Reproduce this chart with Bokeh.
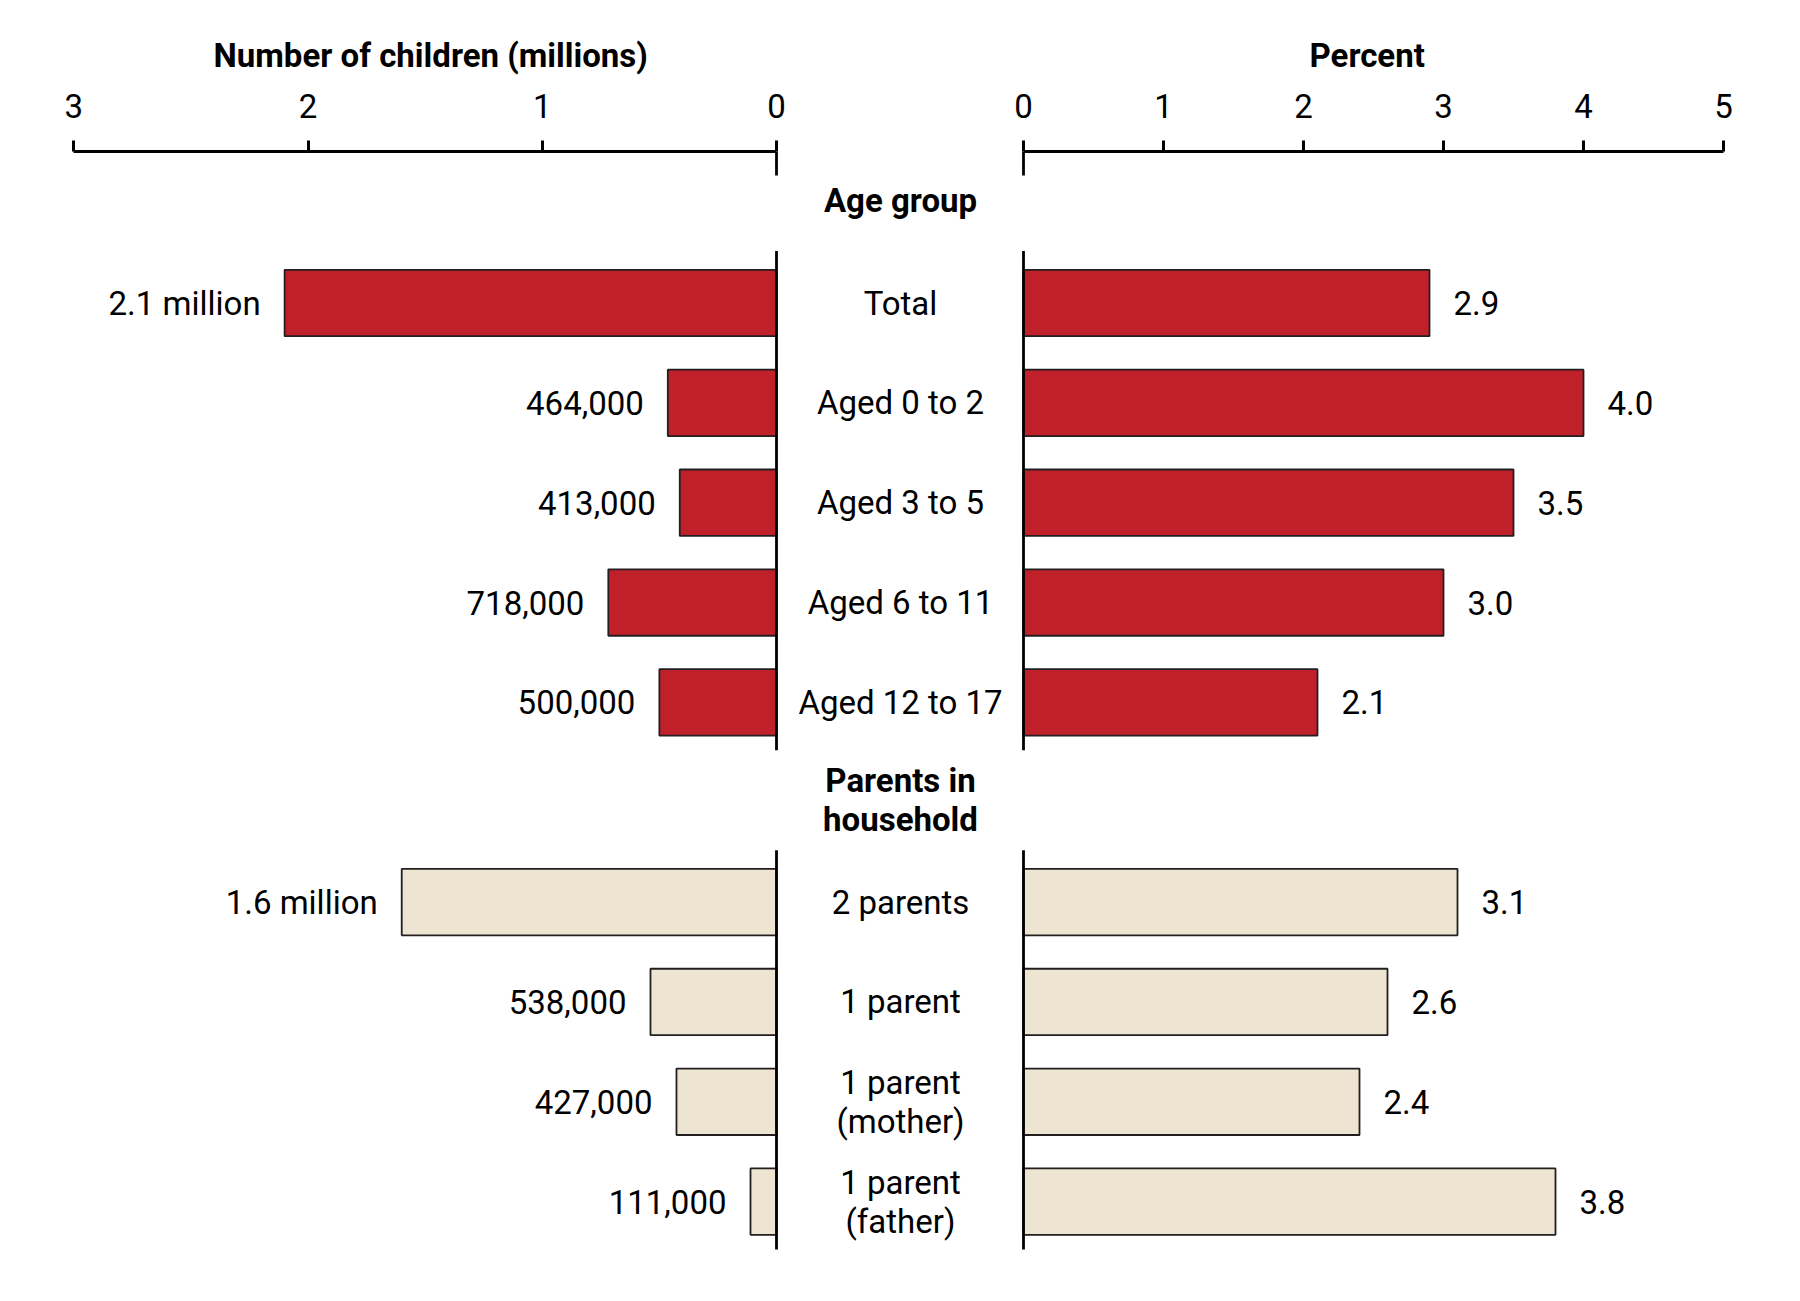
from bokeh.plotting import figure
from bokeh.layouts import row
from bokeh.models import ColumnDataSource, Range1d, FixedTicker, LinearAxis, Title
from bokeh.embed import file_html
from bokeh.resources import INLINE
from bokeh.core.properties import value

# data
group_titles = ["Age group", "Parents in\nhousehold"]
age_labels = ["Total", "Aged 0 to 2", "Aged 3 to 5", "Aged 6 to 11", "Aged 12 to 17"]
age_counts = [2.1, 0.464, 0.413, 0.718, 0.500]  # millions of children
age_pct = [2.9, 4.0, 3.5, 3.0, 2.1]
parent_labels = ["2 parents", "1 parent", "1 parent\n(mother)", "1 parent\n(father)"]
parent_counts = [1.6, 0.538, 0.427, 0.111]
parent_pct = [3.1, 2.6, 2.4, 3.8]
count_ticks = [0, 1, 2, 3]
pct_ticks = [0, 1, 2, 3, 4, 5]

FONT = "Roboto"
FSIZE = "33px"
RED = "#C0202A"
BEIGE = "#EDE4D1"
INK = "#231F20"

# page geometry (pixels)
W_LEFT, W_RIGHT, H = 1002, 782, 1280
TOP = 151            # frame top = axis line
ROW_PX = 99.85       # distance between bar rows
FIRST_ROW_PX = 302.5
LEFT_ZERO_PX, LEFT_MAX_PX = 776, 73.3
RIGHT_ZERO_PX, RIGHT_MAX_PX = 1023 - W_LEFT, 1723 - W_LEFT
MID_PX = 900


def fmt_count(v):
    if v >= 1:
        return f"{v:.1f} million"
    return f"{round(v * 1e6):,}"


# rows: heading, bars..., heading, bars...
age_rows = list(range(len(age_labels)))
parent_rows = [len(age_labels) + 1 + i for i in range(len(parent_labels))]
heading_rows = [-1.03, len(age_labels) - 0.02]

y_top = (TOP - FIRST_ROW_PX) / ROW_PX
y_bottom = y_top + (H - TOP) / ROW_PX

# left (reversed) scale
lscale = (LEFT_ZERO_PX - LEFT_MAX_PX) / max(count_ticks)
xl_start = max(count_ticks) + LEFT_MAX_PX / lscale
xl_end = xl_start - W_LEFT / lscale
x_mid = xl_start - MID_PX / lscale

rscale = (RIGHT_MAX_PX - RIGHT_ZERO_PX) / max(pct_ticks)
xr_start = -RIGHT_ZERO_PX / rscale
xr_end = xr_start + W_RIGHT / rscale

age_src = ColumnDataSource(dict(
    y=age_rows, count=age_counts, pct=age_pct, label=age_labels,
    ctext=[fmt_count(v) for v in age_counts], ptext=[f"{v:.1f}" for v in age_pct],
))
par_src = ColumnDataSource(dict(
    y=parent_rows, count=parent_counts, pct=parent_pct, label=parent_labels,
    ctext=[fmt_count(v) for v in parent_counts], ptext=[f"{v:.1f}" for v in parent_pct],
))

stub_bottom = (175 - FIRST_ROW_PX) / ROW_PX
vy0 = [y_top, age_rows[0] - 0.52, parent_rows[0] - 0.52]
vy1 = [stub_bottom, age_rows[-1] + 0.48, parent_rows[-1] + 0.48]


def make_fig(width, x_range, title, title_offset):
    p = figure(width=width, height=H, x_range=x_range, y_range=Range1d(y_bottom, y_top),
               output_backend="svg", toolbar_location=None,
               x_axis_location=None, y_axis_location=None,
               min_border_top=TOP, min_border_left=0, min_border_right=0, min_border_bottom=0,
               outline_line_color=None, background_fill_color="white")
    p.grid.visible = False
    p.title = Title(text=title, align="left", offset=title_offset, standoff=32,
                    text_font=FONT, text_font_style="bold", text_font_size=FSIZE,
                    text_color="black")
    return p


def style_axis(ax, bounds):
    ax.bounds = bounds
    ax.major_label_text_font = FONT
    ax.major_label_text_font_size = FSIZE
    ax.major_label_text_color = "black"
    ax.major_label_standoff = 23
    ax.axis_line_width = 3
    ax.axis_line_color = "black"
    ax.major_tick_line_width = 3
    ax.major_tick_line_color = "black"
    ax.major_tick_out = 11
    ax.major_tick_in = 0
    ax.minor_tick_line_color = None


# left panel: number of children
left = make_fig(W_LEFT, Range1d(xl_start, xl_end), "Number of children (millions)", 213)
lax = LinearAxis(ticker=FixedTicker(ticks=count_ticks))
style_axis(lax, (min(count_ticks), max(count_ticks)))
left.add_layout(lax, "above")

left.hbar(y="y", left=0, right="count", height=0.665, source=age_src,
          fill_color=RED, line_color=INK, line_width=1.8)
left.hbar(y="y", left=0, right="count", height=0.665, source=par_src,
          fill_color=BEIGE, line_color=INK, line_width=1.8)
left.segment(x0=0, y0=vy0, x1=0, y1=vy1, line_color="black", line_width=2.8)

for src in (age_src, par_src):
    left.text(x="count", y="y", text="ctext", source=src, x_offset=-24,
              text_align="right", text_baseline="middle", text_font=value(FONT),
              text_font_size=FSIZE, text_color="black")
    left.text(x=x_mid, y="y", text="label", source=src,
              text_align="center", text_baseline="middle", text_font=value(FONT),
              text_font_size=FSIZE, text_color="black", text_line_height=1.0)

left.text(x=[x_mid, x_mid], y=heading_rows, text=group_titles,
          text_align="center", text_baseline="middle", text_font=value(FONT),
          text_font_style="bold", text_font_size=FSIZE, text_color="black", text_line_height=1.0)

# right panel: percent
right = make_fig(W_RIGHT, Range1d(xr_start, xr_end), "Percent", 307)
rax = LinearAxis(ticker=FixedTicker(ticks=pct_ticks))
style_axis(rax, (min(pct_ticks), max(pct_ticks)))
right.add_layout(rax, "above")

right.hbar(y="y", left=0, right="pct", height=0.665, source=age_src,
           fill_color=RED, line_color=INK, line_width=1.8)
right.hbar(y="y", left=0, right="pct", height=0.665, source=par_src,
           fill_color=BEIGE, line_color=INK, line_width=1.8)
right.segment(x0=0, y0=vy0, x1=0, y1=vy1, line_color="black", line_width=2.8)

for src in (age_src, par_src):
    right.text(x="pct", y="y", text="ptext", source=src, x_offset=24,
               text_align="left", text_baseline="middle", text_font=value(FONT),
               text_font_size=FSIZE, text_color="black")

layout = row(left, right, spacing=0)

open("out.html", "w").write(file_html(layout, INLINE))
